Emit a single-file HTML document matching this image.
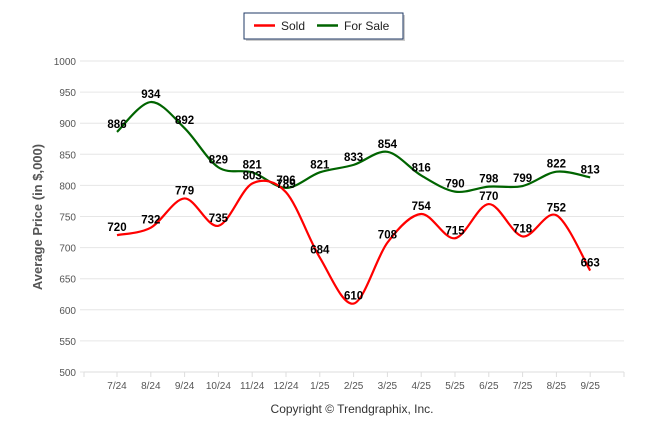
<!DOCTYPE html>
<html><head><meta charset="utf-8"><style>
body{margin:0;background:#fff;width:646px;height:434px;overflow:hidden;font-family:"Liberation Sans",sans-serif}
</style></head><body>
<svg id="s" width="646" height="434" xmlns="http://www.w3.org/2000/svg" font-family="Liberation Sans, sans-serif">
<rect x="246" y="15" width="159" height="26" fill="#999" opacity="0.5"/>
<rect x="244" y="13" width="159" height="26" fill="#fff" stroke="#1f3864" stroke-width="1"/>
<line x1="254" y1="25.5" x2="275" y2="25.5" stroke="#f00" stroke-width="2.5"/>
<text x="281" y="30" font-size="12" fill="#222">Sold</text>
<line x1="317" y1="25.5" x2="338" y2="25.5" stroke="#006400" stroke-width="2.5"/>
<text x="344" y="30" font-size="12" fill="#222">For Sale</text>
<text transform="translate(42,217) rotate(-90)" text-anchor="middle" font-size="13" font-weight="bold" fill="#555">Average Price (in $,000)</text>
<text x="352" y="413" text-anchor="middle" font-size="12" fill="#333">Copyright © Trendgraphix, Inc.</text>
<g id="g"></g>
</svg>
<script>
var g=document.getElementById('g'),h='';
function Y(v){return 372-(v-500)*0.622;}
function X(i){return 117+33.8*i;}
for(var v=500;v<=1000;v+=50){var y=Y(v);h+='<line x1="80" x2="624" y1="'+y+'" y2="'+y+'" stroke="#e6e6e6"/>';h+='<text x="76" y="'+(y+4)+'" text-anchor="end" font-size="10" fill="#555">'+v+'</text>';}
h+='<line x1="84" x2="624" y1="372" y2="372" stroke="#ddd"/>';
var L=['7/24','8/24','9/24','10/24','11/24','12/24','1/25','2/25','3/25','4/25','5/25','6/25','7/25','8/25','9/25'];
L.forEach(function(l,i){h+='<line x1="'+X(i)+'" x2="'+X(i)+'" y1="372" y2="377" stroke="#ddd"/><text x="'+X(i)+'" y="389" text-anchor="middle" font-size="10" fill="#555">'+l+'</text>';});
h+='<line x1="84" x2="84" y1="372" y2="377" stroke="#ddd"/><line x1="624" x2="624" y1="372" y2="377" stroke="#ddd"/>';
var S=[720,732,779,735,803,789,684,610,708,754,715,770,718,752,663];
var F=[886,934,892,829,821,796,821,833,854,816,790,798,799,822,813];
function path(d){var p=d.map(function(v,i){return[X(i),Y(v)]});var s='M'+p[0];for(var i=0;i<p.length-1;i++){var a=p[i-1]||p[i],b=p[i],c=p[i+1],e=p[i+2]||c,t=0.16;s+=' C'+(b[0]+(c[0]-a[0])*t)+','+(b[1]+(c[1]-a[1])*t)+' '+(c[0]-(e[0]-b[0])*t)+','+(c[1]-(e[1]-b[1])*t)+' '+c[0]+','+c[1];}return s;}
h+='<path d="'+path(F)+'" fill="none" stroke="#006400" stroke-width="2.2"/>';
h+='<path d="'+path(S)+'" fill="none" stroke="#f00" stroke-width="2.2"/>';
F.forEach(function(v,i){h+='<text x="'+X(i)+'" y="'+(Y(v)-4)+'" text-anchor="middle" font-size="11.5" font-weight="bold" fill="#000">'+v+'</text>';});
S.forEach(function(v,i){h+='<text x="'+X(i)+'" y="'+(Y(v)-4)+'" text-anchor="middle" font-size="11.5" font-weight="bold" fill="#000">'+v+'</text>';});
g.innerHTML=h;
</script>
</body></html>
